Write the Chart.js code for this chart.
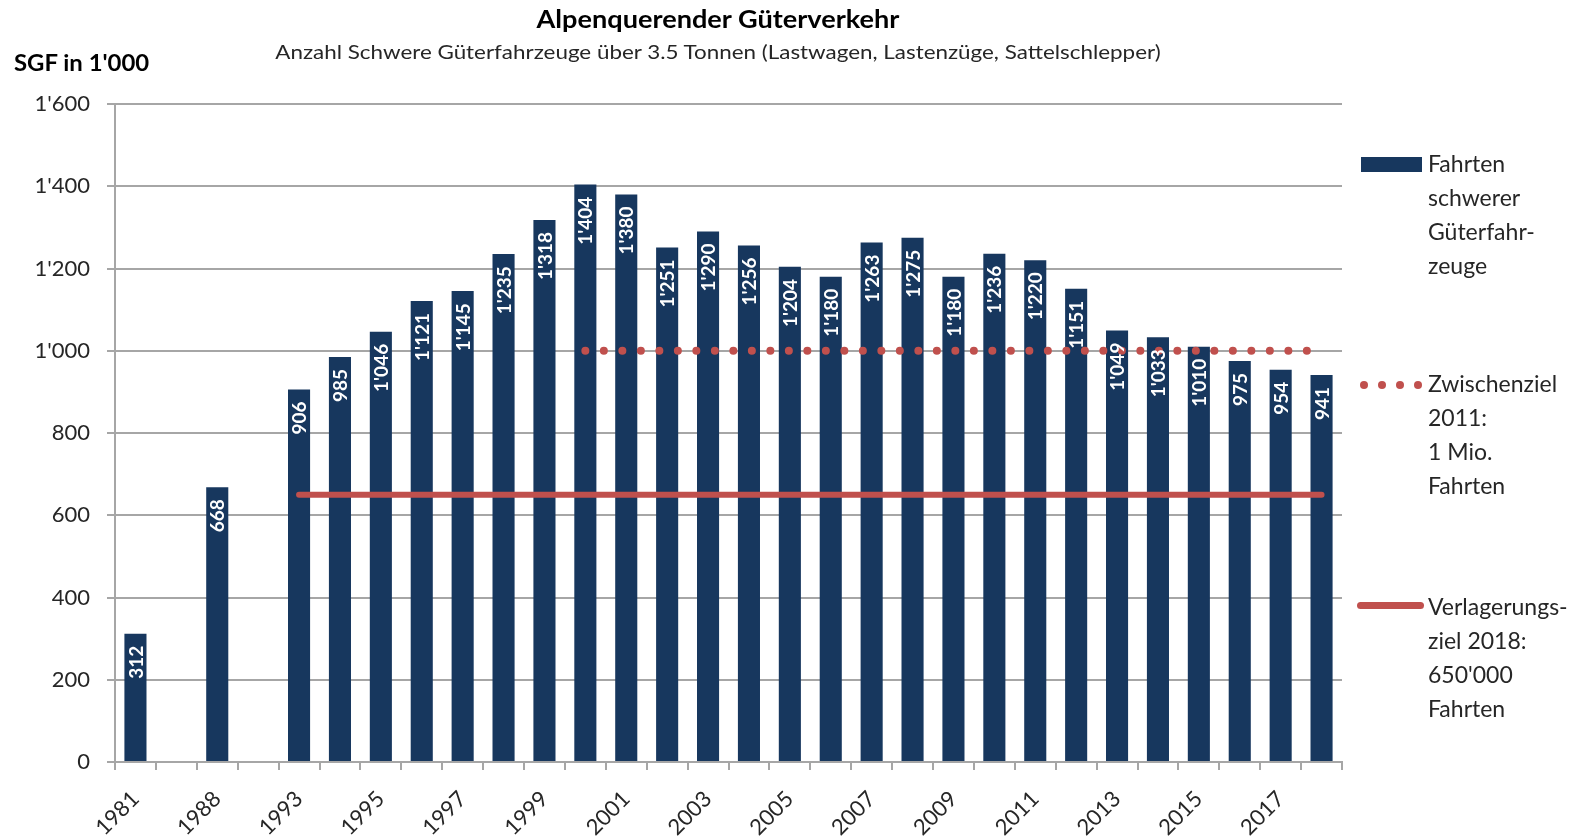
<!DOCTYPE html>
<html lang="de">
<head>
<meta charset="utf-8">
<title>Alpenquerender Güterverkehr</title>
<script src="https://cdn.jsdelivr.net/npm/chart.js@4.4.1/dist/chart.umd.min.js"></script>
<style>
  html, body { margin: 0; padding: 0; background: #fff; }
  #wrap { position: relative; width: 1593px; height: 839px; overflow: hidden; font-family: Lato, 'Noto Sans', sans-serif; color: #1a1a1a; }
  #chart { position: absolute; left: 0; top: 0; }
  .title { position: absolute; left: 0; width: 1436px; text-align: center; line-height: 1.2; white-space: nowrap; transform-origin: 50% 50%; }
  #main-title { top: 5px; font-size: 24px; font-weight: bold; color: #000; transform: scaleX(1.13); }
  #sub-title { top: 39px; font-size: 20px; color: #262626; transform: scaleX(1.12); }
  #y-title { position: absolute; left: 14px; top: 49px; font-size: 23px; font-weight: bold; line-height: 1.2; color: #000; transform-origin: 0 50%; transform: scaleX(1.04); }
  .legend-text { position: absolute; left: 1428px; font-size: 23px; line-height: 34px; color: #262626; white-space: nowrap; }
  .sym { position: absolute; }
</style>
</head>
<body>
<div id="wrap">
  <canvas id="chart" width="1593" height="839"></canvas>
  <div class="title" id="main-title">Alpenquerender Güterverkehr</div>
  <div class="title" id="sub-title">Anzahl Schwere Güterfahrzeuge über 3.5 Tonnen (Lastwagen, Lastenzüge, Sattelschlepper)</div>
  <div id="y-title">SGF in 1'000</div>

  <!-- legend, built by hand because the labels wrap over several lines -->
  <div class="sym" id="sym-bar" style="left:1361px; top:157px; width:61px; height:15px; background:#17375e;"></div>
  <div class="legend-text" style="top:146px;">Fahrten<br>schwerer<br>Güterfahr-<br>zeuge</div>
  <div id="sym-dots"></div>
  <div class="legend-text" style="top:366px;">Zwischenziel<br>2011:<br>1 Mio.<br>Fahrten</div>
  <div class="sym" style="left:1357px; top:602px; width:67px; height:7px; border-radius:4px; background:#c0504d;"></div>
  <div class="legend-text" style="top:589px;">Verlagerungs-<br>ziel 2018:<br>650'000<br>Fahrten</div>
</div>

<script>
// Categories: two empty slots keep the gaps between 1981, 1988 and 1993
const years = ['1981', '', '1988', '', '1993', '1994', '1995', '1996', '1997', '1998', '1999',
  '2000', '2001', '2002', '2003', '2004', '2005', '2006', '2007', '2008', '2009',
  '2010', '2011', '2012', '2013', '2014', '2015', '2016', '2017', '2018'];

// Fahrten schwerer Güterfahrzeuge (in 1'000)
const trips = [312, null, 668, null, 906, 985, 1046, 1121, 1145, 1235, 1318,
  1404, 1380, 1251, 1290, 1256, 1204, 1180, 1263, 1275, 1180,
  1236, 1220, 1151, 1049, 1033, 1010, 975, 954, 941];

// Zwischenziel 2011: 1 Mio. Fahrten (drawn from 2000 on)
const interimGoal = [null, null, null, null, null, null, null, null, null, null, null,
  1000, 1000, 1000, 1000, 1000, 1000, 1000, 1000, 1000, 1000,
  1000, 1000, 1000, 1000, 1000, 1000, 1000, 1000, 1000];

// Verlagerungsziel 2018: 650'000 Fahrten (drawn from 1993 on)
const shiftGoal = [null, null, null, null, 650, 650, 650, 650, 650, 650, 650,
  650, 650, 650, 650, 650, 650, 650, 650, 650, 650,
  650, 650, 650, 650, 650, 650, 650, 650, 650];

const yTicks = [0, 200, 400, 600, 800, 1000, 1200, 1400, 1600];

const BAR_COLOR = '#17375e';
const RED = '#c0504d';
const GRID = '#a6a6a6';

// Swiss thousands separator: 1404 -> 1'404
function fmt(v) {
  return String(v).replace(/\B(?=(\d{3})+(?!\d))/g, "'");
}

// legend dots
(function buildDots() {
  const box = document.getElementById('sym-dots');
  [1364, 1382, 1400, 1418].forEach(cx => {
    const d = document.createElement('div');
    d.className = 'sym';
    d.style.cssText = `left:${cx - 4}px; top:381px; width:8px; height:8px; border-radius:50%; background:${RED};`;
    box.appendChild(d);
  });
})();

/**
 * Vertical white value labels inside the top of each bar
 */
const barLabels = {
  id: 'barLabels',
  afterDatasetsDraw(chart) {
    const meta = chart.getDatasetMeta(0);
    const ctx = chart.ctx;
    ctx.save();
    ctx.fillStyle = '#ffffff';
    ctx.font = 'bold 19px Lato, sans-serif';
    ctx.textAlign = 'right';
    ctx.textBaseline = 'middle';
    meta.data.forEach((bar, i) => {
      const v = trips[i];
      if (v == null) return;
      ctx.save();
      ctx.translate(bar.x + 1, bar.y + 12);
      ctx.rotate(-Math.PI / 2);
      ctx.fillText(fmt(v), 0, 0);
      ctx.restore();
    });
    ctx.restore();
  }
};

const ctx = document.getElementById('chart');

new Chart(ctx, {
  type: 'bar',
  data: {
    labels: years,
    datasets: [
      {
        label: 'Fahrten schwerer Güterfahrzeuge',
        data: trips,
        backgroundColor: BAR_COLOR,
        categoryPercentage: 1,
        barPercentage: 0.54,
        order: 2
      },
      {
        type: 'line',
        label: 'Zwischenziel 2011: 1 Mio. Fahrten',
        data: interimGoal,
        borderColor: RED,
        borderWidth: 8,
        borderDash: [0, 18.5],
        borderCapStyle: 'round',
        pointRadius: 0,
        fill: false,
        order: 1
      },
      {
        type: 'line',
        label: "Verlagerungsziel 2018: 650'000 Fahrten",
        data: shiftGoal,
        borderColor: RED,
        borderWidth: 6,
        borderCapStyle: 'round',
        pointRadius: 0,
        fill: false,
        order: 1
      }
    ]
  },
  options: {
    responsive: false,
    animation: false,
    layout: { padding: { top: 104, right: 251, bottom: 0, left: 0 } },
    plugins: {
      legend: { display: false },
      tooltip: { enabled: false }
    },
    scales: {
      x: {
        grid: {
          offset: true,
          drawOnChartArea: false,
          color: GRID,
          lineWidth: 2,
          tickLength: 8
        },
        border: { display: true, color: GRID, width: 2 },
        ticks: {
          autoSkip: false,
          minRotation: 45,
          maxRotation: 45,
          padding: 16,
          color: '#262626',
          font: { family: 'Lato', size: 22 },
          callback: (value, index) => (index % 2 === 0 ? years[index] : '')
        },
        afterFit: (scale) => { scale.height = 77; }
      },
      y: {
        min: 0,
        max: 1600,
        afterBuildTicks: (scale) => { scale.ticks = yTicks.map(v => ({ value: v })); },
        grid: { color: GRID, lineWidth: 2, tickLength: 8 },
        border: { display: true, color: GRID, width: 2 },
        ticks: {
          padding: 17,
          color: '#262626',
          font: { family: 'Lato', size: 22 },
          callback: (value) => fmt(value)
        },
        afterFit: (scale) => { scale.width = 115; }
      }
    }
  },
  plugins: [barLabels]
});
</script>
</body>
</html>
